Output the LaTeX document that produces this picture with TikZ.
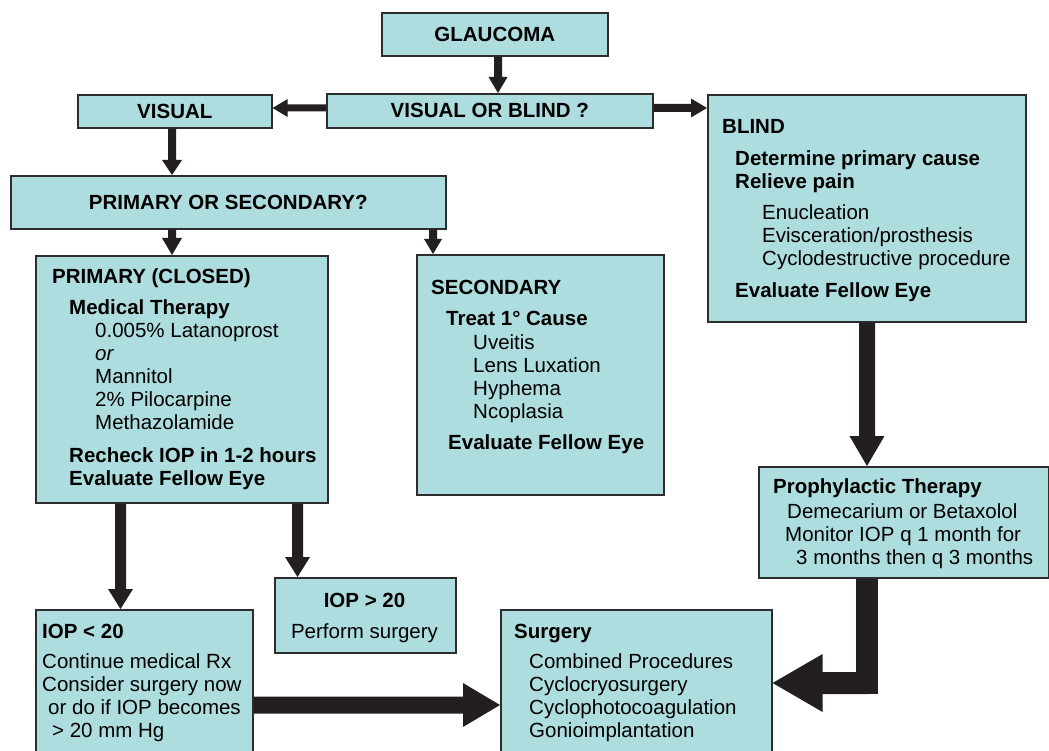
\documentclass[tikz,border=0pt]{standalone}
\usepackage{fontspec}
\setmainfont{Liberation Sans}
\usetikzlibrary{calc}
\definecolor{boxfill}{RGB}{174,221,223}
\definecolor{boxline}{RGB}{45,45,45}
\definecolor{arrowc}{RGB}{35,31,32}
\newcommand\fs{\fontsize{20.5}{23}\selectfont}
\tikzset{
  flowbox/.style={draw=boxline, fill=boxfill, line width=1.6pt, inner sep=0pt, anchor=north west, font=\fs\bfseries},
  boxtext/.style={anchor=north west, inner sep=0pt, align=left, font=\fs},
}
\newcommand\mkbox[6]{\node[flowbox, minimum width={(#4-#2)*1pt}, minimum height={(#5-#3)*1pt}] (#1) at (#2,#3) {#6};}
\newcommand\blockarrow[5]{%
  \coordinate (bahead) at ($(#2)!#5pt!(#1)$);
  \fill[arrowc] ($(#1)!0.5*#3pt!90:(#2)$) -- ($(bahead)!0.5*#3pt!90:(#2)$) -- ($(bahead)!0.5*#4pt!90:(#2)$) -- (#2) -- ($(bahead)!0.5*#4pt!-90:(#2)$) -- ($(bahead)!0.5*#3pt!-90:(#2)$) -- ($(#1)!0.5*#3pt!-90:(#2)$) -- cycle;}
\begin{document}
\begin{tikzpicture}[x=1pt,y=-1pt]
\clip (0,0) rectangle (1049,751);
\fill[white] (0,0) rectangle (1049,751);
% boxes
\mkbox{gl}{381}{12}{607}{55}{GLAUCOMA}
\mkbox{vob}{326}{93}{652}{127}{VISUAL OR BLIND ?}
\mkbox{vis}{77}{94}{271}{127}{VISUAL}
\mkbox{blind}{707}{94}{1025}{321}{}
\mkbox{pos}{10}{175}{445}{228}{PRIMARY OR SECONDARY?}
\mkbox{prim}{35}{255}{327}{502}{}
\mkbox{sec}{416}{254}{663}{494}{}
\mkbox{prop}{758}{466}{1048}{577}{}
\mkbox{ig}{274}{577}{455}{652}{}
\mkbox{il}{35}{609}{252}{760}{}
\mkbox{su}{500}{609}{771}{760}{}
% texts
\node[boxtext] (tblind) at (722,116.9) {\strut\textbf{BLIND}\\[9pt]
  \hspace*{13pt}\textbf{Determine primary cause}\\
  \hspace*{13pt}\textbf{Relieve pain}\\[8pt]
  \hspace*{40pt}Enucleation\\
  \hspace*{40pt}Evisceration/prosthesis\\
  \hspace*{40pt}Cyclodestructive procedure\\[9pt]
  \hspace*{13pt}\textbf{Evaluate Fellow Eye}};
\node[boxtext] (tprim) at (52,266.9) {\strut\textbf{PRIMARY (CLOSED)}\\[8pt]
  \hspace*{17pt}\textbf{Medical Therapy}\\
  \hspace*{43pt}0.005\% Latanoprost\\
  \hspace*{43pt}\textit{or}\\
  \hspace*{43pt}Mannitol\\
  \hspace*{43pt}2\% Pilocarpine\\
  \hspace*{43pt}Methazolamide\\[10pt]
  \hspace*{17pt}\textbf{Recheck IOP in 1-2 hours}\\
  \hspace*{17pt}\textbf{Evaluate Fellow Eye}};
\node[boxtext] (tsec) at (431,277.9) {\strut\textbf{SECONDARY}\\[8pt]
  \hspace*{15pt}\textbf{Treat 1° Cause}\\[1pt]
  \hspace*{42pt}Uveitis\\
  \hspace*{42pt}Lens Luxation\\
  \hspace*{42pt}Hyphema\\
  \hspace*{42pt}Ncoplasia\\[8pt]
  \hspace*{17pt}\textbf{Evaluate Fellow Eye}};
\node[boxtext] (tprop) at (773,476.9) {\strut\textbf{Prophylactic Therapy}\\[2pt]
  \hspace*{14pt}Demecarium or Betaxolol\\
  \hspace*{12pt}Monitor IOP q 1 month for\\
  \hspace*{23pt}3 months then q 3 months};
\node[boxtext, anchor=north, align=center] (tig) at (364.5,590.9) {\strut\textbf{IOP > 20}\\[8pt]Perform surgery};
\node[boxtext] (til) at (42,621.9) {\strut\textbf{IOP < 20}\\[7pt]
  Continue medical Rx\\
  Consider surgery now\\
  \hspace*{6pt}or do if IOP becomes\\
  \hspace*{10pt}> 20 mm Hg};
\node[boxtext] (tsu) at (514,621.9) {\strut\textbf{Surgery}\\[7pt]
  \hspace*{15pt}Combined Procedures\\
  \hspace*{15pt}Cyclocryosurgery\\
  \hspace*{15pt}Cyclophotocoagulation\\
  \hspace*{15pt}Gonioimplantation};
% helper coordinates
\coordinate (cx498) at (498,0);
\coordinate (cy108) at (0,108);
\coordinate (cx172) at (172,0);
\coordinate (cx433) at (433,0);
\coordinate (cx120) at (120.5,0);
\coordinate (cx297) at (297.5,0);
\coordinate (cx867) at (867,0);
\coordinate (cy705) at (0,705);
\coordinate (elb) at (867,683);
\coordinate (a1s) at (cx498 |- gl.south);  \coordinate (a1e) at (cx498 |- vob.north);
\coordinate (a2s) at (vob.west |- cy108);  \coordinate (a2e) at (vis.east |- cy108);
\coordinate (a3s) at (vob.east |- cy108);  \coordinate (a3e) at (blind.west |- cy108);
\coordinate (a4s) at (cx172 |- vis.south); \coordinate (a4e) at (cx172 |- pos.north);
\coordinate (a5s) at (cx172 |- pos.south); \coordinate (a5e) at (cx172 |- prim.north);
\coordinate (a6s) at (cx433 |- pos.south); \coordinate (a6e) at (cx433 |- sec.north);
\coordinate (a7s) at (cx120 |- prim.south); \coordinate (a7e) at (cx120 |- il.north);
\coordinate (a8s) at (cx297 |- prim.south); \coordinate (a8e) at (cx297 |- ig.north);
\coordinate (a9s) at (cx867 |- blind.south); \coordinate (a9e) at (cx867 |- prop.north);
\coordinate (a10s) at (elb |- prop.south); \coordinate (a10e) at (su.east |- elb);
\coordinate (a11s) at (il.east |- cy705); \coordinate (a11e) at (su.west |- cy705);
% arrows
\blockarrow{a1s}{a1e}{8}{19}{16}
\blockarrow{a2s}{a2e}{7}{18}{15}
\blockarrow{a3s}{a3e}{8}{19}{16}
\blockarrow{a4s}{a4e}{8}{20}{15}
\blockarrow{a5s}{a5e}{8}{20}{17}
\blockarrow{a6s}{a6e}{8}{18}{15}
\blockarrow{a7s}{a7e}{11}{25}{20}
\blockarrow{a8s}{a8e}{11}{25}{20}
\blockarrow{a9s}{a9e}{16}{35}{30}
\draw[arrowc, line width=22pt] (a10s) -- ([yshift=-11pt]elb);
\blockarrow{elb}{a10e}{22}{58}{50}
\blockarrow{a11s}{a11e}{17}{44}{37}
\end{tikzpicture}
\end{document}
